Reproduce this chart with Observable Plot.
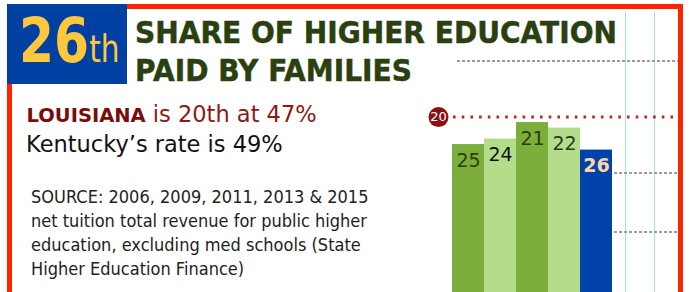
<!DOCTYPE html>
<html>
<head>
<meta charset="utf-8">
<script src="https://cdn.jsdelivr.net/npm/d3@7"></script>
<script src="https://cdn.jsdelivr.net/npm/@observablehq/plot@0.6"></script>
<style>
  html, body { margin: 0; padding: 0; background: #fff; }
  #wrap { position: relative; width: 690px; height: 292px; overflow: hidden; background: #fff; font-family: "DejaVu Sans", sans-serif; }
  .abs { position: absolute; white-space: nowrap; }
  #chart { position: absolute; left: 400px; top: 0; z-index: 1; }
  #frame { position: absolute; left: 7px; top: 4px; width: 676px; height: 320px; border: 5px solid #ff2400; box-sizing: border-box; z-index: 3; }
  #badge { position: absolute; left: 7px; top: 4px; width: 120px; height: 80px; background: #0040a2; z-index: 4; }
  .vline { position: absolute; top: 12px; width: 1px; height: 290px; background: #a3dcf4; z-index: 0; }
  .dash { position: absolute; height: 2px; background: repeating-linear-gradient(90deg, #9c9c9c 0 3px, transparent 3px 5px); z-index: 0; }
  .txt { z-index: 5; }
</style>
</head>
<body>
<div id="wrap">
  <div class="vline" style="left:625px"></div>
  <div class="vline" style="left:654px"></div>
  <div class="dash" style="left:457px; top:60px; width:221px"></div>
  <div class="dash" style="left:614px; top:172px; width:64px"></div>
  <div class="dash" style="left:614px; top:231px; width:64px"></div>
  <div id="frame"></div>
  <div id="badge"></div>
  <div class="abs txt" id="rank" style="left:19px; top:10.3px; font-weight:bold; font-size:63px; line-height:62px; color:#ffc83c; transform:scaleX(0.8); transform-origin:0 0;"></div>
  <div class="abs txt" id="title" style="left:135px; top:14px; font-weight:bold; font-size:30.5px; line-height:38px; color:#2b4010; -webkit-text-stroke:0.5px #2b4010; transform:scaleX(0.92); transform-origin:0 0;"></div>
  <div class="abs txt" id="louisiana" style="left:26.5px; top:98.7px; font-size:22.5px; line-height:30px; color:#8b1a14;"></div>
  <div class="abs txt" id="kentucky" style="left:26px; top:128.7px; font-size:22.5px; line-height:30px; color:#111;"></div>
  <div class="abs txt" id="source" style="left:30.5px; top:185.1px; font-size:18px; line-height:23.9px; color:#222; transform:scaleX(0.9); transform-origin:0 0;"></div>
  <div id="chart"></div>
</div>
<script>
// ---- data ----
const years = ["2006", "2009", "2011", "2013", "2015"];
const ranks = [25, 24, 21, 22, 26];
const barColors = ["#7bae3a", "#b3dc8b", "#7bae3a", "#b3dc8b", "#0042a8"];
const labelColors = ["#2b3d12", "#111111", "#2b3d12", "#2b3d12", "#fdd6a6"];
const highlightYear = "2015";
const louisianaRank = [20];
const kentuckyRank = "26";
const kentuckyRankSuffix = "th";
const titleLines = ["SHARE OF HIGHER EDUCATION", "PAID BY FAMILIES"];
const louisianaName = "LOUISIANA";
const louisianaText = " is 20th at 47%";
const kentuckyText = "Kentucky\u2019s rate is 49%";
const sourceLines = [
  "SOURCE: 2006, 2009, 2011, 2013 & 2015",
  "net tuition total revenue for public higher",
  "education, excluding med schools (State",
  "Higher Education Finance)"
];

// ---- text blocks ----
document.getElementById("rank").innerHTML =
  kentuckyRank + '<span style="font-weight:normal;font-size:37px;line-height:1">' + kentuckyRankSuffix + '</span>';
document.getElementById("title").innerHTML = titleLines.join("<br>");
document.getElementById("louisiana").innerHTML =
  '<span style="font-weight:bold;font-size:19.5px;color:#7a0c0c">' + louisianaName + '</span>' + louisianaText;
document.getElementById("kentucky").textContent = kentuckyText;
document.getElementById("source").innerHTML = sourceLines.join("<br>");

// ---- chart ----
const data = years.map((year, i) => ({
  year, rank: ranks[i], fill: barColors[i], label: labelColors[i], highlight: year === highlightYear
}));
const RANK_TOP = -1.2, RANK_BOTTOM = 51.9;

const chart = Plot.plot({
  width: 290,
  height: 292,
  marginLeft: 38,
  marginRight: 10,
  marginTop: 0,
  marginBottom: 0,
  x: {type: "band", domain: years, range: [52, 212], padding: 0, axis: null},
  y: {domain: [RANK_BOTTOM, RANK_TOP], axis: null},
  color: {type: "identity"},
  style: {fontFamily: "DejaVu Sans, sans-serif", background: "transparent", overflow: "visible"},
  marks: [
    Plot.barY(data, {x: "year", y1: RANK_BOTTOM, y2: "rank", fill: "fill"}),
    Plot.ruleY(louisianaRank, {stroke: "#b02c1c", strokeWidth: 3, strokeDasharray: "2.6,6.1", strokeDashoffset: -6.3}),
    Plot.dot(louisianaRank, {y: d => d, frameAnchor: "left", r: 10, fill: "#8c1010"}),
    Plot.text(louisianaRank, {y: d => d, frameAnchor: "left", textAnchor: "middle", text: d => String(d), fill: "#ffffff", fontSize: 13}),
    Plot.text(data.filter(d => !d.highlight), {x: "year", y: "rank", text: d => String(d.rank), fill: "label", dy: 16, fontSize: 19}),
    Plot.text(data.filter(d => d.highlight), {x: "year", y: "rank", text: d => String(d.rank), fill: "label", dy: 16, fontSize: 19, fontWeight: "bold"})
  ]
});
document.getElementById("chart").appendChild(chart);
</script>
</body>
</html>
